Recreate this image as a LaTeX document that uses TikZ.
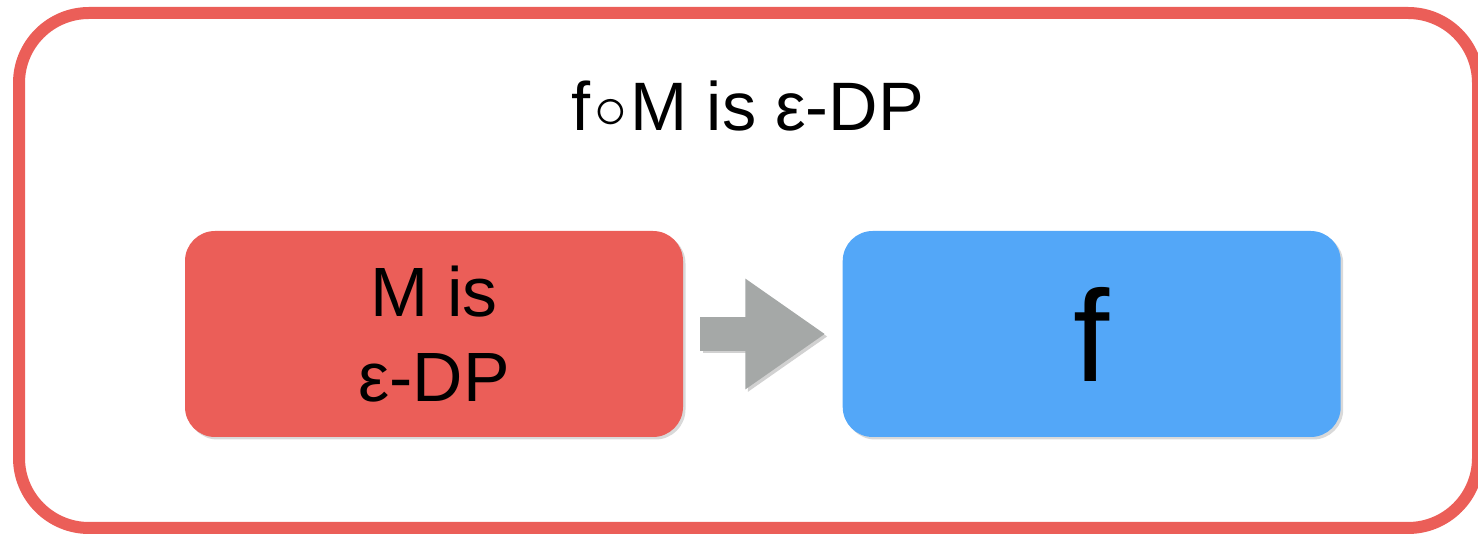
\documentclass[tikz,border=0pt]{standalone}
\usepackage{fontspec}
\setmainfont{Liberation Sans}
\usetikzlibrary{positioning,arrows.meta,shadows}
\definecolor{DPRed}{RGB}{235,94,88}
\definecolor{FuncBlue}{RGB}{83,167,248}
\definecolor{FlechaGris}{RGB}{165,168,167}
\newcommand{\Compo}{\hspace{2pt}\raisebox{1.6pt}{\scalebox{1.5}{$\circ$}}\hspace{2pt}}
\tikzstyle{Marco}=[draw=DPRed, line width=0.24cm, rounded corners=1.4cm]
\tikzstyle{Caja}=[rectangle, rounded corners=0.6cm, minimum width=9.96cm, minimum height=4.12cm, inner sep=0pt, drop shadow={opacity=0.3, shadow xshift=0.05cm, shadow yshift=-0.05cm}]
\tikzstyle{Titulo}=[font=\fontsize{39}{47}\selectfont]
\tikzstyle{Flecha}=[FlechaGris, line width=0.68cm, shorten <=0.34cm, shorten >=0.34cm, -{Triangle[length=1.6cm, width=2.1cm]}]

\begin{document}
\begin{tikzpicture}
			\useasboundingbox (0,0) rectangle (29.56,-10.78);

			%Marco
			\draw[Marco] (0.38,-0.26) rectangle (29.56,-10.56);

			%Nodos
			\node[Titulo, anchor=base]	(title)	at (14.96,-2.62)	{f\Compo M is ε-DP};

			\node[Caja, fill=DPRed, align=center, font=\fontsize{39.7}{48.4}\selectfont]	(mech)	at (8.68,-6.68)	{M is\\ε-DP};
			\node[Caja, fill=FuncBlue, font=\fontsize{74}{80}\selectfont]	(func)	[right=3.18cm of mech]	{f};

			%Flecha
			\draw[Flecha, black, opacity=0.18, transform canvas={xshift=0.05cm, yshift=-0.05cm}] (mech.east) -- (func.west);
			\draw[Flecha] (mech.east) -- (func.west);

		\end{tikzpicture}
\end{document}
